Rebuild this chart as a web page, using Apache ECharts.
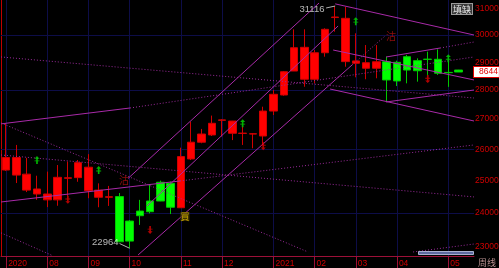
<!DOCTYPE html>
<html><head><meta charset="utf-8">
<script src="https://cdn.jsdelivr.net/npm/echarts@6/dist/echarts.min.js"></script>
<style>html,body{margin:0;padding:0;background:#000;}#c{width:499px;height:268px;}</style>
</head><body><div id="c"></div>
<script>
// ---- data ----
const weekCount = 46;
const monthTicks = [[0,'2020'],[4,'08'],[8,'09'],[12,'10'],[17,'11'],[21,'12'],[26,'2021'],[30,'02'],[34,'03'],[38,'04'],[43,'05']];
const opens  = [25330,25170,24700,24580,24400,24400,25070,25090,24680,24480,24480,24500,23760,24060,24365,24945,24910,24160,25685,26230,26470,26960,26525,26520,26500,26435,27275,27830,28680,28385,28385,29345,30670,29020,28960,28780,28780,29015,28995,29200,29055,29110,29105,28630,28715];
const closes = [25730,25730,25200,24735,24580,25100,25085,25565,25420,24700,24495,23150,23170,23920,24040,24365,24175,25760,26230,26500,26860,26975,26935,26530,26510,27275,27855,28655,29530,29545,29345,30220,30690,30640,29045,28980,29015,28360,28325,28715,28690,29100,28600,28620,28644];
const lows   = [25300,24920,24640,24400,24180,24220,24520,24960,24450,24175,24215,23140,22964,23645,23990,24360,23970,24150,25650,26195,26435,26415,26300,26140,26030,26140,27140,27805,28680,28120,28240,29200,30130,28835,28455,28385,28420,27600,28145,28240,28300,28540,28540,28115,28644];
const highs  = [26870,26140,25720,25150,25280,25490,25600,25650,25840,24910,24830,24610,23790,24400,24860,24995,24965,26050,26915,26670,27120,27000,26940,26745,26535,27425,28005,28680,30220,30220,29445,30260,31116,31080,30070,29630,29630,29200,29055,29265,29140,29385,29470,29015,28720];
const yTicks = [23000,24000,25000,26000,27000,28000,29000,30000,31000];
const gridValues = [24000,26000,28000,30000];
const buyArrows  = [[3,25650],[9,25330],[23,26860],[34,30530],[43,29140]];
const sellArrows = [[6,24400],[14,23495],[25,26100],[41,28390]];
const solidLines = [
  [[-0.5,26840],[12.05,27380]],
  [[-0.5,24335],[16.9,24985]],
  [[11.85,25063],[30.43,31234]],
  [[13.70,24214],[32.28,30346]],
  [[12.83,22770],[33.64,28898]],
  [[32,31200],[45.5,30005]],
  [[31.8,29446],[45.5,28360]],
  [[31.5,28040],[45.5,26937]],
  [[36.95,29189],[42.2,29519]],
  [[36.95,27587],[45.5,28005]]
];
const dottedLines = [
  [[-0.5,29190],[45.5,27725]],
  [[12.05,27380],[45.5,29190]],
  [[-0.5,26870],[29.36,22856]],
  [[-0.5,23410],[4.56,22745]],
  [[16.9,24985],[45.5,26140]],
  [[-0.5,25813],[45.5,24490]],
  [[33.64,28898],[36.85,29968]],
  [[42.2,29519],[45.5,29743]],
  [[39.58,22856],[45.5,23086]]
];
const highMark = [32, 31116];
const lowMark = [12, 22964];
const lastPrice = 28644;

// ---- build ----
const categories = new Array(weekCount).fill('');
monthTicks.forEach(([i, t]) => { categories[i] = t; });
const candles = opens.map((o, i) => [o, closes[i], lows[i], highs[i]]);
const FONT = "'Liberation Sans','Arial',sans-serif";
const CJK = "'Noto Sans CJK SC','Noto Sans CJK TC',sans-serif";
const RED = '#d00000';

const gridMarks = [];
monthTicks.forEach(([i]) => gridMarks.push({xAxis: i, lineStyle: {color: '#0d0d48', width: 1, type: 'solid'}, label: {show: false}}));
yTicks.forEach(v => gridMarks.push({
  yAxis: v,
  lineStyle: {color: gridValues.includes(v) ? '#0d0d48' : 'rgba(0,0,0,0)', width: 1, type: 'solid'},
  label: {show: true, position: 'end', distance: 1, formatter: String(v), color: RED, fontSize: 8.5, fontFamily: FONT}
}));

const lineMarks = [];
solidLines.forEach(l => lineMarks.push([{coord: l[0], lineStyle: {color: '#a82aa8', width: 1, type: 'solid'}}, {coord: l[1]}]));
dottedLines.forEach(l => lineMarks.push([{coord: l[0], lineStyle: {color: '#9a2a9a', width: 1, type: [1, 2]}}, {coord: l[1]}]));
// leader lines for the extreme labels
lineMarks.push([{coord: [31.12, 31039], lineStyle: {color: '#b0b0b0', width: 1, type: 'solid'}}, {coord: highMark}]);
lineMarks.push([{coord: [11.03, 23100], lineStyle: {color: '#b0b0b0', width: 1, type: 'solid'}}, {coord: lowMark}]);

const upArrow = 'path://M3,0L6,3H4V5H6V6H4V9H2V6H0V5H2V3H0Z';
const downArrow = 'path://M2,0H4V3H6V4H4V6H6L3,9L0,6H2V4H0V3H2Z';

const annotations = [
  {value: [31.01, 30981], text: String(highMark[1]), pos: 'left', color: '#e0e0e0', font: FONT, size: 9.5},
  {value: [10.975, 23130], text: String(lowMark[1]), pos: 'left', color: '#e0e0e0', font: FONT, size: 9.5},
  {value: [11.46, 25000], text: '沽', pos: 'inside', color: '#b01010', font: CJK, size: 10},
  {value: [37.43, 29968], text: '沽', pos: 'inside', color: '#b01010', font: CJK, size: 10},
  {value: [17.39, 23897], text: '買', pos: 'inside', color: '#d8b400', font: CJK, size: 9, bg: '#4a3c00'}
];

const chart = echarts.init(document.getElementById('c'), null, {renderer: 'canvas'});
chart.setOption({
  backgroundColor: '#000000',
  animation: false,
  grid: {left: 1, right: 25, top: 0, bottom: 12, containLabel: false},
  xAxis: [{
    type: 'category', data: categories, boundaryGap: true,
    axisLine: {lineStyle: {color: '#9c1038', width: 1}},
    axisTick: {show: true, alignWithLabel: true, length: 12, interval: (i, v) => v !== '', lineStyle: {color: '#9c1038'}},
    axisLabel: {show: true, interval: (i, v) => v !== '', align: 'left', margin: 3, padding: [0, 0, 0, 2], color: RED, fontSize: 8.5, fontFamily: FONT},
    splitLine: {show: false}
  }, {
    type: 'value', min: -0.5, max: weekCount - 0.5, show: false
  }],
  yAxis: [
    {type: 'log', logBase: 10, position: 'right', min: 22741, max: 31352, scale: true,
     axisLine: {show: true, lineStyle: {color: '#6a1e6a'}}, axisTick: {show: false}, axisLabel: {show: false}, splitLine: {show: false}},
    {type: 'value', position: 'left', min: 0, max: 1,
     axisLine: {show: true, lineStyle: {color: '#c00000'}}, axisTick: {show: false}, axisLabel: {show: false}, splitLine: {show: false}}
  ],
  series: [
    {type: 'line', name: 'grid', data: [], z: 1, silent: true,
     markLine: {silent: true, z: 1, symbol: ['none', 'none'], animation: false, data: gridMarks}},
    {type: 'candlestick', name: 'weekly', data: candles, barWidth: 8, z: 2,
     itemStyle: {color: '#ff0000', color0: '#00ff00', borderColor: '#d00000', borderColor0: '#00c800', borderWidth: 1},
     markLine: {silent: true, symbol: ['none', 'none'], animation: false, z: 6,
       data: [{yAxis: lastPrice, lineStyle: {color: 'rgba(0,0,0,0)'},
         label: {show: true, position: 'end', distance: 0, formatter: '8644', color: '#e00000', backgroundColor: '#ffffff', borderColor: '#e00000', borderWidth: 1, padding: [1, 1, 0, 5], fontSize: 8.5, fontFamily: FONT}}]}},
    {type: 'line', name: 'trend', xAxisIndex: 1, data: [], z: 3, silent: true,
     markLine: {silent: true, z: 4, symbol: ['none', 'none'], animation: false, label: {show: false}, data: lineMarks}},
    {type: 'scatter', name: 'buy', data: buyArrows, symbol: upArrow, symbolSize: [5, 8], z: 5,
     itemStyle: {color: '#00e000'}},
    {type: 'scatter', name: 'sell', data: sellArrows, symbol: downArrow, symbolSize: [5, 8], z: 5,
     itemStyle: {color: '#e00000'}},
    {type: 'scatter', name: 'notes', xAxisIndex: 1, z: 7, symbolSize: 1, itemStyle: {color: 'rgba(0,0,0,0)'},
     data: annotations.map(a => ({value: a.value, label: {show: true, position: a.pos, distance: 0, formatter: a.text,
       color: a.color, fontSize: a.size, fontFamily: a.font, backgroundColor: a.bg || 'transparent', padding: 0}}))}
  ],
  graphic: [
    {type: 'text', right: 26, top: 3, z: 10, style: {text: '填缺', fill: '#e8e8e8', font: "9px 'Noto Sans CJK SC'", backgroundColor: '#3a3a3a', borderColor: '#9a9a9a', borderWidth: 1, padding: [1, 1, 0, 1]}},
    {type: 'text', right: 3, bottom: 1, z: 10, style: {text: '周线', fill: '#b89090', font: "9px 'Noto Sans CJK SC'"}},
    {type: 'rect', left: 418, top: 251, z: 10, shape: {width: 55, height: 3}, style: {fill: '#5c6aa0', stroke: '#a8b0d0', lineWidth: 1}}
  ]
});
</script></body></html>
